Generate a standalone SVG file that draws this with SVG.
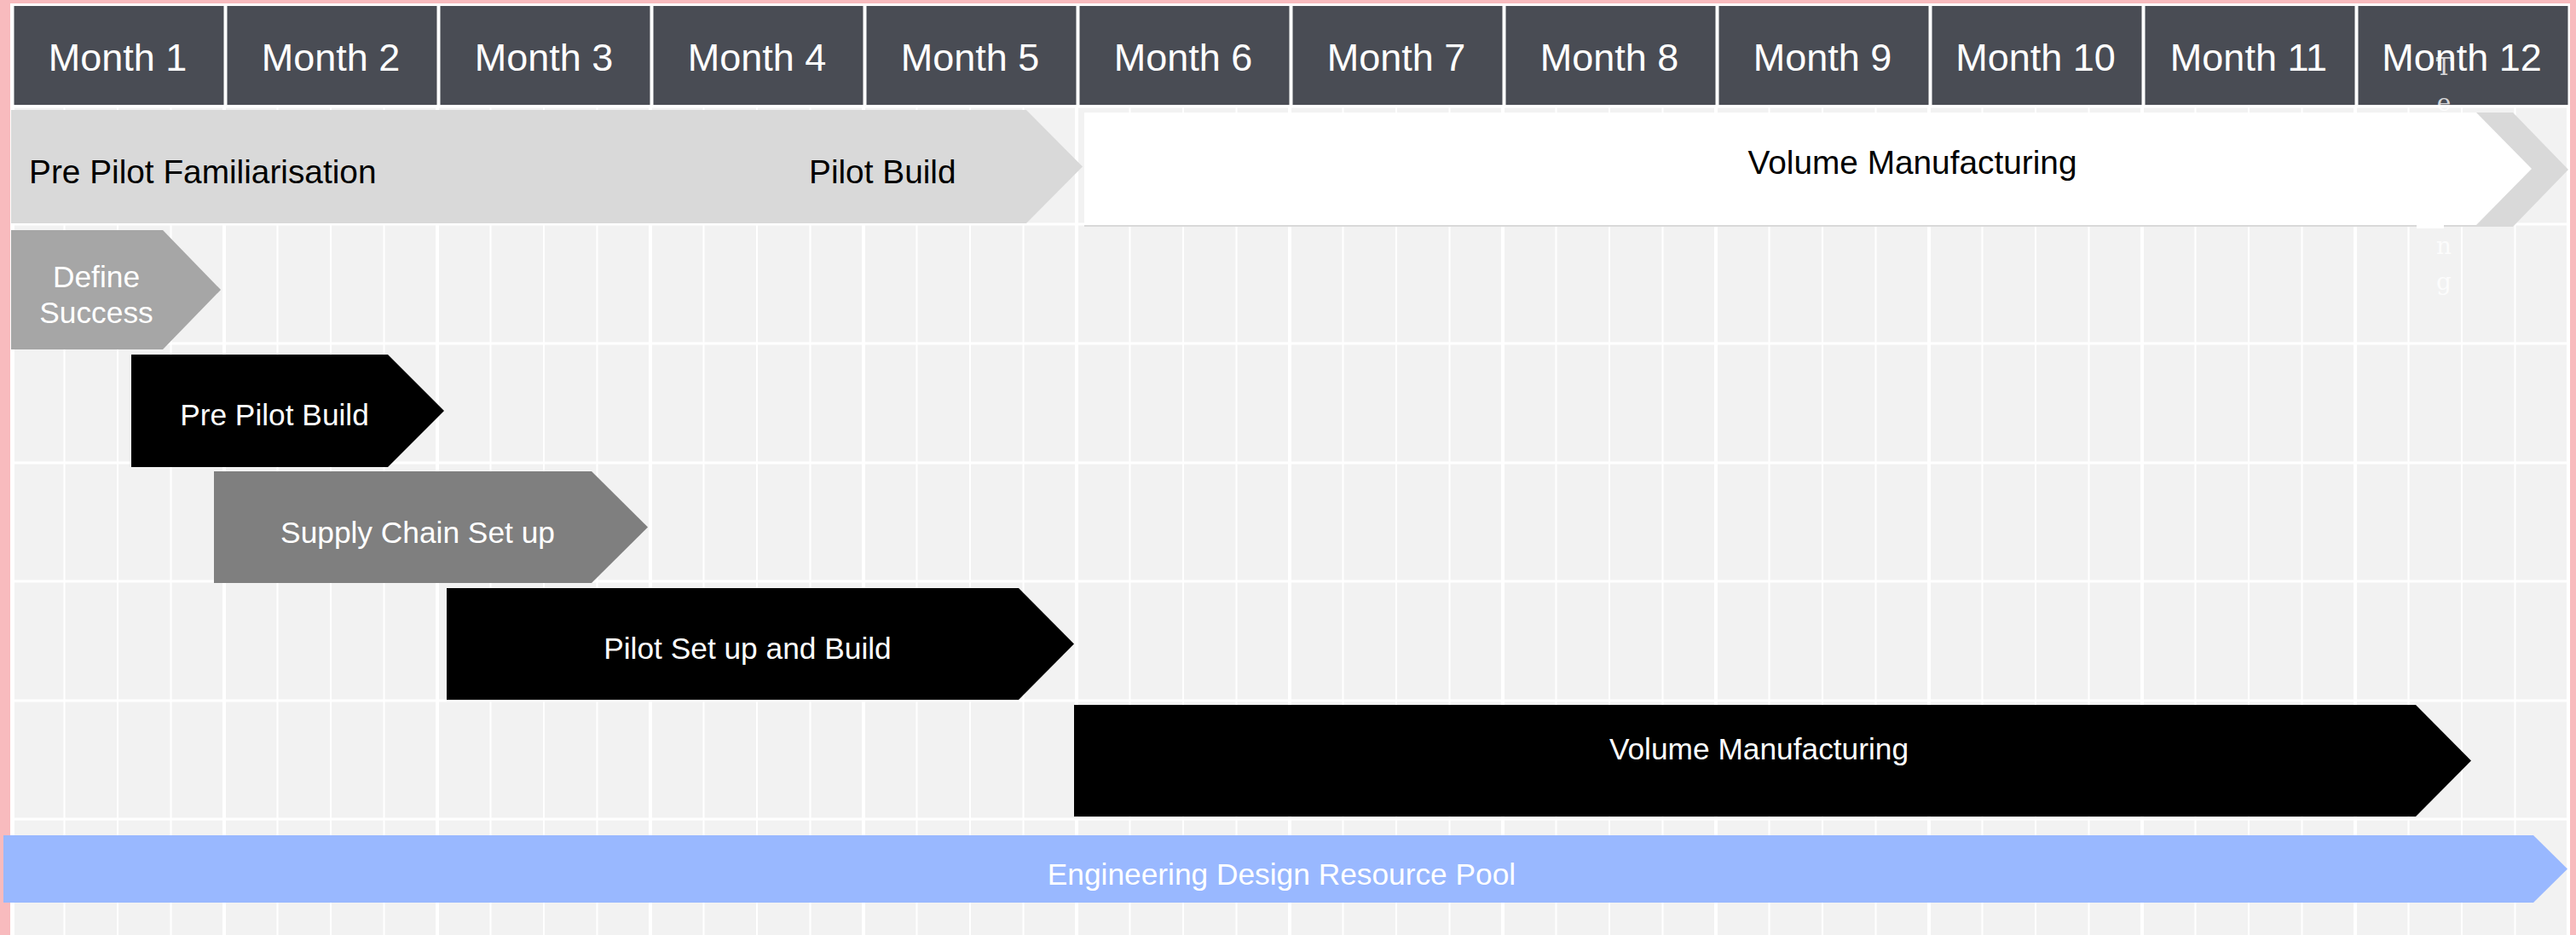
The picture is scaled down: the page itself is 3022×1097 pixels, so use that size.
<svg xmlns="http://www.w3.org/2000/svg" width="3022" height="1097" viewBox="0 0 3022 1097">
  <style>
    .hdr { fill: #494c54; }
    .hdr-t { font-family: "Liberation Sans", Arial, sans-serif; font-size: 45px; fill: #ffffff; text-anchor: middle; }
    .lbl { font-family: "Liberation Sans", Arial, sans-serif; fill: #ffffff; text-anchor: middle; font-size: 35.3px; }
    .phase-t { font-family: "Liberation Sans", Arial, sans-serif; fill: #000000; font-size: 38.8px; }
    .minor { stroke: #ffffff; stroke-width: 2; fill: none; }
    .major { stroke: #ffffff; stroke-width: 4; fill: none; }
    .row { stroke: #ffffff; stroke-width: 3; fill: none; }
    .stray { font-family: "DejaVu Serif", serif; font-size: 28px; fill: #ffffff; fill-opacity: 0.8; text-anchor: middle; }
  </style>

  <!-- page frame -->
  <rect x="0" y="0" width="3022" height="1097" fill="#f8bbbe"/>
  <rect x="12" y="4" width="3003" height="1093" fill="#ffffff"/>

  <!-- timeline grid -->
  <g id="grid">
    <rect x="13" y="123" width="3000" height="974" fill="#f2f2f2"/>
    <path class="minor" d="M75.5 123V1097M138 123V1097M200.5 123V1097M325.5 123V1097M388 123V1097M450.5 123V1097M575.5 123V1097M638 123V1097M700.5 123V1097M825.5 123V1097M888 123V1097M950.5 123V1097M1075.5 123V1097M1138 123V1097M1200.5 123V1097M1325.5 123V1097M1388 123V1097M1450.5 123V1097M1575.5 123V1097M1638 123V1097M1700.5 123V1097M1825.5 123V1097M1888 123V1097M1950.5 123V1097M2075.5 123V1097M2138 123V1097M2200.5 123V1097M2325.5 123V1097M2388 123V1097M2450.5 123V1097M2575.5 123V1097M2638 123V1097M2700.5 123V1097M2825.5 123V1097M2888 123V1097M2950.5 123V1097"/>
    <path class="major" d="M15 123V1097M263 123V1097M513 123V1097M763 123V1097M1013 123V1097M1263 123V1097M1513 123V1097M1763 123V1097M2013 123V1097M2263 123V1097M2513 123V1097M2763 123V1097M3013 123V1097"/>
    <path class="row" d="M13 125H3013M13 263H3013M13 403H3013M13 543H3013M13 682H3013M13 822H3013M13 961H3013"/>
  </g>

  <!-- month header -->
  <g id="header">
    <g id="month-1"><rect class="hdr" x="16.5" y="7" width="246" height="116"/><text class="hdr-t" x="138" y="83">Month 1</text></g>
    <g id="month-2"><rect class="hdr" x="266.5" y="7" width="246" height="116"/><text class="hdr-t" x="388" y="83">Month 2</text></g>
    <g id="month-3"><rect class="hdr" x="516.5" y="7" width="246" height="116"/><text class="hdr-t" x="638" y="83">Month 3</text></g>
    <g id="month-4"><rect class="hdr" x="766.5" y="7" width="246" height="116"/><text class="hdr-t" x="888" y="83">Month 4</text></g>
    <g id="month-5"><rect class="hdr" x="1016.5" y="7" width="246" height="116"/><text class="hdr-t" x="1138" y="83">Month 5</text></g>
    <g id="month-6"><rect class="hdr" x="1266.5" y="7" width="246" height="116"/><text class="hdr-t" x="1388" y="83">Month 6</text></g>
    <g id="month-7"><rect class="hdr" x="1516.5" y="7" width="246" height="116"/><text class="hdr-t" x="1638" y="83">Month 7</text></g>
    <g id="month-8"><rect class="hdr" x="1766.5" y="7" width="246" height="116"/><text class="hdr-t" x="1888" y="83">Month 8</text></g>
    <g id="month-9"><rect class="hdr" x="2016.5" y="7" width="246" height="116"/><text class="hdr-t" x="2138" y="83">Month 9</text></g>
    <g id="month-10"><rect class="hdr" x="2266.5" y="7" width="246" height="116"/><text class="hdr-t" x="2388" y="83">Month 10</text></g>
    <g id="month-11"><rect class="hdr" x="2516.5" y="7" width="246" height="116"/><text class="hdr-t" x="2638" y="83">Month 11</text></g>
    <g id="month-12"><rect class="hdr" x="2766.5" y="7" width="246" height="116"/><text class="hdr-t" x="2888" y="83">Month 12</text></g>
  </g>

  <!-- vertical label sitting behind the volume phase box -->
  <g id="testing-label">
    <text class="stray" x="2867" y="88">T<tspan x="2867" dy="42">e</tspan><tspan x="2867" dy="42">s</tspan><tspan x="2867" dy="42">t</tspan><tspan x="2867" dy="42">i</tspan><tspan x="2867" dy="42">n</tspan><tspan x="2867" dy="42">g</tspan></text>
  </g>

  <!-- phase row -->
  <g id="phase-familiarisation">
    <rect x="13" y="129" width="700" height="133" fill="#d9d9d9"/>
    <text class="phase-t" x="34" y="215">Pre Pilot Familiarisation</text>
  </g>
  <g id="phase-pilot-build">
    <polygon points="712,129 1204,129 1270,195.5 1204,262 712,262" fill="#d9d9d9"/>
    <text class="phase-t" x="949" y="215">Pilot Build</text>
  </g>
  <g id="phase-volume">
    <polygon points="1272,132 2948,132 3013,199 2948,266 1272,266" fill="#d9d9d9"/>
    <polygon points="1272,132 2905,132 2970,198 2905,264 1272,264" fill="#ffffff"/>
    <rect x="2835" y="262" width="32" height="6" fill="#ffffff"/>
    <text class="phase-t" x="2243.5" y="204" text-anchor="middle" font-size="39">Volume Manufacturing</text>
  </g>

  <!-- activity bars -->
  <g id="define-success">
    <polygon points="13,270 191,270 259,340 191,410 13,410" fill="#a6a6a6"/>
    <text class="lbl" x="113" y="337" font-size="35">Define</text>
    <text class="lbl" x="113" y="379" font-size="35">Success</text>
  </g>
  <g id="pre-pilot-build">
    <polygon points="154,416 455,416 521,482 455,548 154,548" fill="#000000"/>
    <text class="lbl" x="322" y="499">Pre Pilot Build</text>
  </g>
  <g id="supply-chain">
    <polygon points="251,553 694,553 760,618.5 694,684 251,684" fill="#7f7f7f"/>
    <text class="lbl" x="490" y="637">Supply Chain Set up</text>
  </g>
  <g id="pilot-setup">
    <polygon points="524,690 1195,690 1260,755.5 1195,821 524,821" fill="#000000"/>
    <text class="lbl" x="877" y="773">Pilot Set up and Build</text>
  </g>
  <g id="volume-manufacturing">
    <polygon points="1260,827 2834,827 2899,892.5 2834,958 1260,958" fill="#000000"/>
    <text class="lbl" x="2063.5" y="891" font-size="37">Volume Manufacturing</text>
  </g>
  <g id="engineering-pool">
    <polygon points="4,980 2972,980 3012,1019.5 2972,1059 4,1059" fill="#99b8ff"/>
    <text class="lbl" x="1503.5" y="1038" font-size="35.4">Engineering Design Resource Pool</text>
  </g>

  <g id="connectors"/>
</svg>
